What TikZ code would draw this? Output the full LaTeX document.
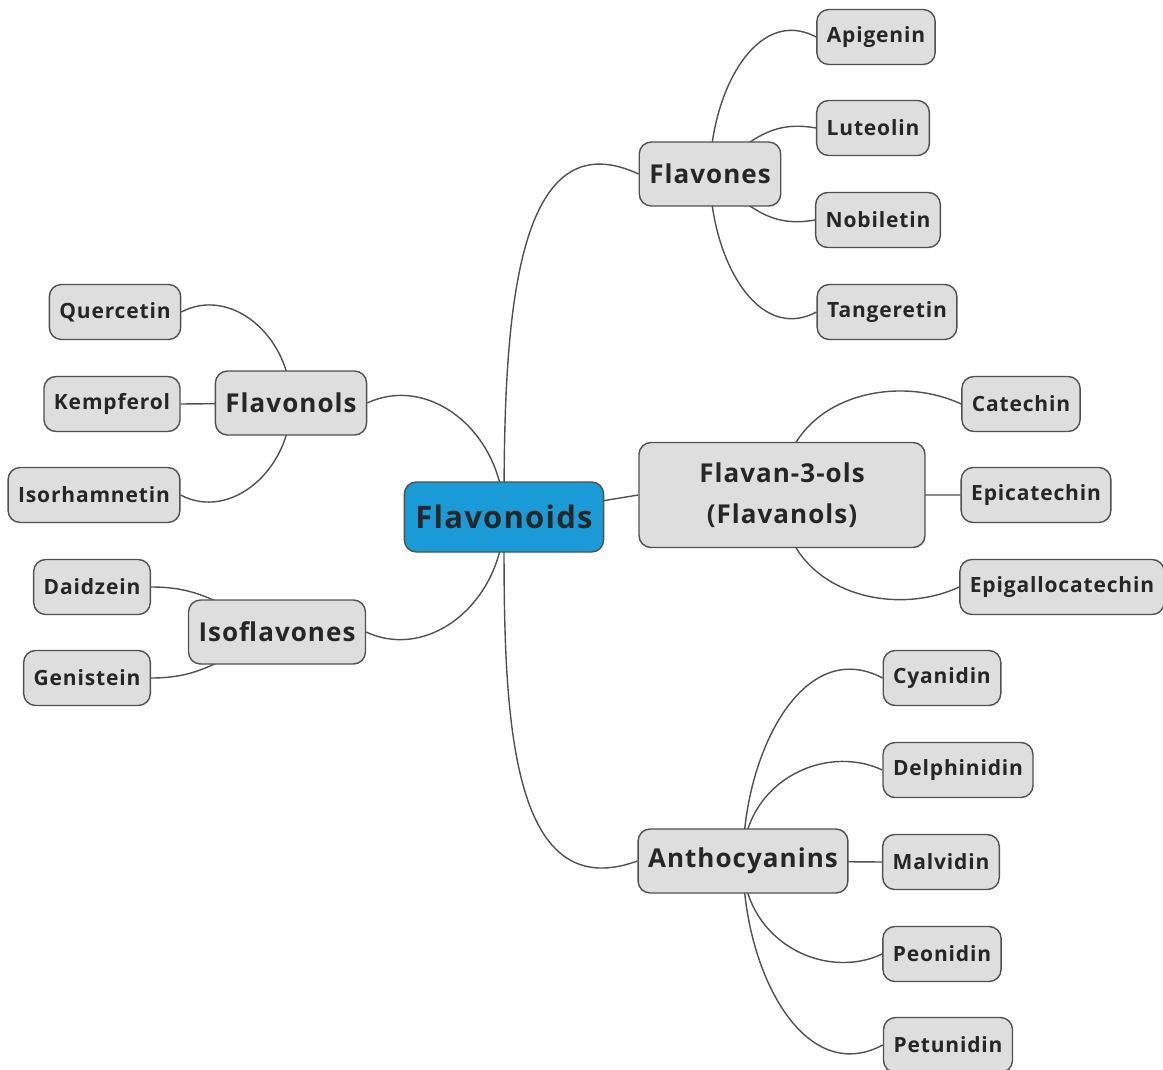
\documentclass[tikz,border=0pt]{standalone}
\usepackage{fontspec}
\setmainfont{Open Sans}[LetterSpace=4]
\usetikzlibrary{backgrounds}
\definecolor{boxfill}{HTML}{DEDEDE}
\definecolor{boxline}{HTML}{505050}
\definecolor{rootfill}{HTML}{1A9BD7}
\definecolor{inktext}{HTML}{262626}

\begin{document}
\begin{tikzpicture}[x=1pt,y=1pt,
    every node/.style={draw=boxline,line width=1.4pt,rounded corners=12pt,
      fill=boxfill,text=inktext,font=\bfseries,align=center},
    root/.style={fill=rootfill,minimum height=70pt,inner xsep=11pt,
      font=\bfseries\fontsize{31}{36}\selectfont},
    group/.style={minimum height=64pt,inner xsep=10pt,
      font=\bfseries\fontsize{26}{41}\selectfont},
    leaf/.style={minimum height=55pt,inner xsep=10pt,
      font=\bfseries\fontsize{21}{24}\selectfont},
    link/.style={draw=boxline,line width=1.4pt,out looseness=1.2}]

  \useasboundingbox (0,0) rectangle (1163,-1070);

  \node[root] (flavonoids) at (504,-517) {Flavonoids};

  \node[group] (flavones) at (710,-174) {Flavones};
  \node[group] (flavonols) at (291,-403) {Flavonols};
  \node[group] (isoflavones) at (277,-632) {Isoflavones};
  \node[group,minimum width=286pt,minimum height=105pt] (flavanols) at (782,-495)
    {Flavan-3-ols\\(Flavanols)};
  \node[group] (anthocyanins) at (743,-861) {Anthocyanins};

  \node[leaf] (apigenin) at (876,-37) {Apigenin};
  \node[leaf] (luteolin) at (873,-128) {Luteolin};
  \node[leaf] (nobiletin) at (878,-220) {Nobiletin};
  \node[leaf] (tangeretin) at (887,-312) {Tangeretin};

  \node[leaf] (quercetin) at (115,-312) {Quercetin};
  \node[leaf] (kempferol) at (112,-404) {Kempferol};
  \node[leaf] (isorhamnetin) at (94,-495) {Isorhamnetin};

  \node[leaf] (daidzein) at (92,-587) {Daidzein};
  \node[leaf] (genistein) at (87,-678) {Genistein};

  \node[leaf] (catechin) at (1021,-404) {Catechin};
  \node[leaf] (epicatechin) at (1036,-495) {Epicatechin};
  \node[leaf] (epigallocatechin) at (1062,-587) {Epigallocatechin};

  \node[leaf] (cyanidin) at (942,-678) {Cyanidin};
  \node[leaf] (delphinidin) at (958,-770) {Delphinidin};
  \node[leaf] (malvidin) at (941,-862) {Malvidin};
  \node[leaf] (peonidin) at (942,-954) {Peonidin};
  \node[leaf] (petunidin) at (948,-1045) {Petunidin};

  \begin{scope}[on background layer]
  \draw[link]
  (flavonoids.center) to[out=90,in=155] (flavones.west)
  (flavonoids.center) to[out=90,in=25] (flavonols.east)
  (flavonoids.center) to[out=270,in=335] (isoflavones.east)
  (flavonoids.center) -- (flavanols.west)
  (flavonoids.center) to[out=270,in=200] (anthocyanins.west)
  (flavones.center) to[out=90,in=152] (apigenin.west)
  (flavones.center) to[out=40,in=170] (luteolin.west)
  (flavones.center) to[out=320,in=190] (nobiletin.west)
  (flavones.center) to[out=270,in=208] (tangeretin.west)
  (flavonols.center) to[out=90,in=28] (quercetin.east)
  (flavonols.center) -- (kempferol.east)
  (flavonols.center) to[out=270,in=332] (isorhamnetin.east)
  (isoflavones.center) to[out=155,in=0] (daidzein.east)
  (isoflavones.center) to[out=205,in=0] (genistein.east)
  (flavanols.center) to[out=90,in=155] (catechin.west)
  (flavanols.center) -- (epicatechin.west)
  (flavanols.center) to[out=270,in=205] (epigallocatechin.west)
  (anthocyanins.center) to[out=90,in=152] (cyanidin.west)
  (anthocyanins.center) to[out=90,in=155] (delphinidin.west)
  (anthocyanins.center) -- (malvidin.west)
  (anthocyanins.center) to[out=270,in=205] (peonidin.west)
  (anthocyanins.center) to[out=270,in=208] (petunidin.west);
  \end{scope}

\end{tikzpicture}
\end{document}
